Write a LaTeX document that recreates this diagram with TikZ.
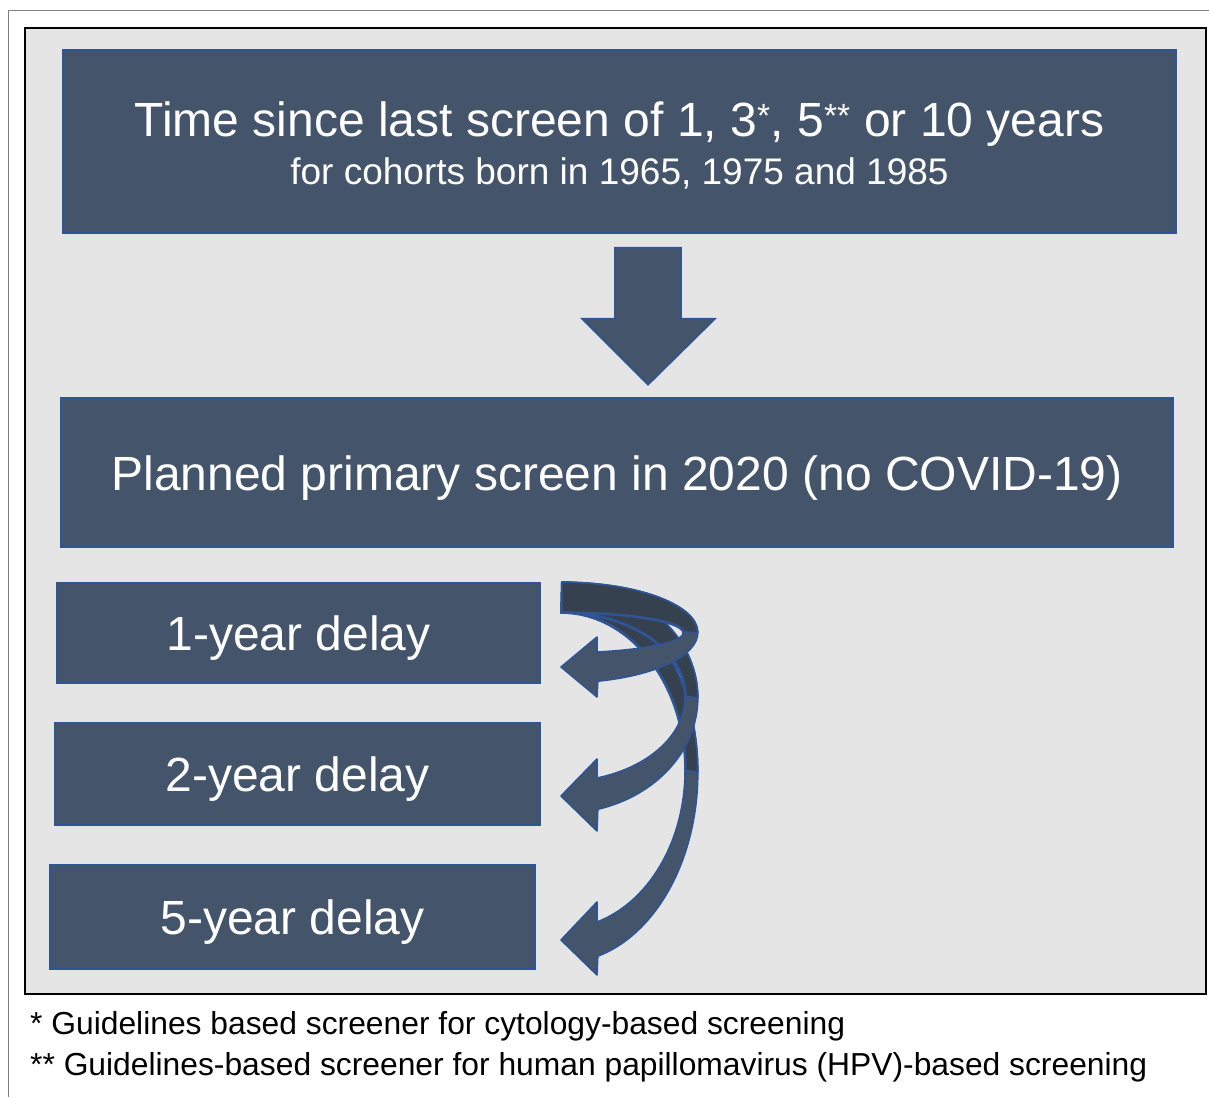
\documentclass[tikz,border=0pt]{standalone}
\usepackage{fontspec}
\setmainfont{Liberation Sans}
\usepackage{xcolor}
\usetikzlibrary{positioning,calc}

\definecolor{boxfill}{HTML}{44546A}
\definecolor{boxline}{HTML}{2F5597}
\definecolor{backfill}{HTML}{36414F}
\definecolor{panel}{HTML}{E5E5E5}
\definecolor{framegray}{HTML}{7F7F7F}

\begin{document}
\begin{tikzpicture}[x=1pt, y=1pt,
    stage/.style={draw=boxline, line width=1.6pt, fill=boxfill, text=white, inner sep=0pt, align=center,
        font=\fontsize{48}{56}\selectfont, text height=36, text depth=0},
    blockarrow/.style={draw=boxline, line width=1.6pt, fill=boxfill, line join=round},
    blockback/.style={draw=boxline, line width=1.6pt, fill=backfill, line join=round}]
    \useasboundingbox (0,0) rectangle (1209,1097);

    % Frames
    \draw[framegray, line width=1pt] (8,0) -- (8,1086) -- (1209,1086);
    \draw[black, line width=2.5pt, fill=panel] (25,103) rectangle (1206,1069);

    % Stages
    \node[stage, minimum width=1113, minimum height=183, font=\fontsize{48}{48}\selectfont,
          text height=87, text depth=0] (since) at (619.5,955.5)
        {Time since last screen of 1, 3\textsuperscript{*}, 5\textsuperscript{**} or 10 years\\
         {\fontsize{37}{48}\selectfont for cohorts born in 1965, 1975 and 1985}};
    \node[stage, minimum width=1112, minimum height=149] (plan) at (617,624.5)
        {Planned primary screen in 2020 (no COVID-19)};
    \node[stage, minimum width=483, minimum height=100] (delay1) at (298.5,464) {1-year delay};
    \node[stage, minimum width=485, minimum height=102] (delay2) at (297.5,323) {2-year delay};
    \node[stage, minimum width=485, minimum height=104] (delay5) at (292.5,180) {5-year delay};

    % Block arrow between the two top stages
    \coordinate (drop) at ($(since.south)+(28.5,-14)$);
    \draw[blockarrow, line join=miter] (drop) ++(-33,0) -- ++(0,-71) -- ++(-33,0) -- ++(66,-66)
        -- ++(67,66) -- ++(-34,0) -- ++(0,71) -- cycle;

    % Curved arrows to the delays
    \coordinate (loop) at ($(delay1.north east)+(21,0)$);
    % 5-year
    \draw[blockarrow] (loop) arc[start angle=90, end angle=-74.65, x radius=136, y radius=190.4]
        -- (597,122) -- (561,157) -- (597,195) -- (597,175)
        arc[start angle=-73.12, end angle=90, x radius=124, y radius=157.9] -- cycle;
    \draw[blockback] (loop) arc[start angle=90, end angle=0, x radius=136, y radius=190.4]
        -- ++(-12,2.5) arc[start angle=0, end angle=90, x radius=124, y radius=157.9] -- cycle;
    % 2-year
    \draw[blockarrow] (loop) arc[start angle=90, end angle=-74.65, x radius=136, y radius=115.6]
        -- (597,266) -- (561,301) -- (597,338) -- (597,319)
        arc[start angle=-73.12, end angle=90, x radius=124, y radius=84.3] -- cycle;
    \draw[blockback] (loop) arc[start angle=90, end angle=0, x radius=136, y radius=115.6]
        -- ++(-12,1.3) arc[start angle=0, end angle=90, x radius=124, y radius=84.3] -- cycle;
    % 1-year
    \draw[blockarrow] (loop) arc[start angle=90, end angle=-74.65, x radius=136, y radius=50.4]
        -- (597,400) -- (561,430) -- (597,460) -- (597,445)
        arc[start angle=-72.84, end angle=90, x radius=122, y radius=19.94] -- cycle;
    \draw[blockback] (loop) arc[start angle=90, end angle=0, x radius=136, y radius=50.4]
        -- ++(-14,0.46) arc[start angle=0, end angle=90, x radius=122, y radius=19.94] -- cycle;

    % Footnotes
    \node[anchor=base west, inner sep=0pt, font=\fontsize{31.8}{38}\selectfont] (note1) at (30,63)
        {* Guidelines based screener for cytology-based screening};
    \node[anchor=base west, inner sep=0pt, font=\fontsize{31.8}{38}\selectfont] (note2) at (30,22)
        {** Guidelines-based screener for human papillomavirus (HPV)-based screening};
\end{tikzpicture}
\end{document}
